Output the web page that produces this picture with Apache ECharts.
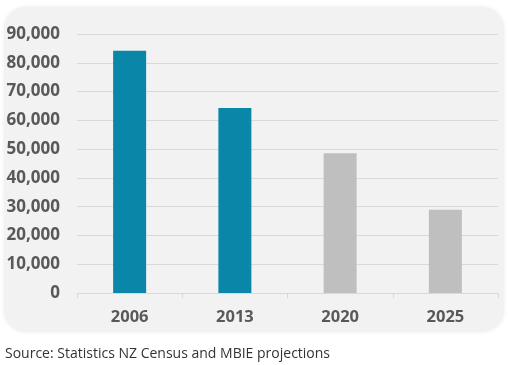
<!DOCTYPE html>
<html><head><meta charset="utf-8">
<script src="https://cdn.jsdelivr.net/npm/echarts@6/dist/echarts.min.js"></script>
<style>html,body{margin:0;padding:0;background:#fff;}#c{width:508px;height:365px;}</style>
</head><body><div id="c"></div>
<script>
var categories = ['2006', '2013', '2020', '2025'];
var values = [84200, 64300, 48600, 28900];
var barColors = ['#0a87a8', '#0a87a8', '#bfbfbf', '#bfbfbf'];
var sourceText = 'Source: Statistics NZ Census and MBIE projections';

var chart = echarts.init(document.getElementById('c'), null, {renderer: 'canvas'});
chart.setOption({
  animation: false,
  backgroundColor: '#ffffff',
  graphic: [
    {type: 'rect', z: -10, shape: {x: 4, y: 7, width: 500, height: 325, r: 22},
     style: {fill: '#f2f2f2', shadowBlur: 4, shadowColor: 'rgba(0,0,0,0.08)'}},
    {type: 'text', left: 5, top: 347, style: {text: sourceText, fill: '#333333', font: '14px "Open Sans"'}}
  ],
  grid: {left: 77, right: 10, top: 34, bottom: 72, containLabel: false},
  xAxis: {
    type: 'category', data: categories,
    axisLine: {show: true, lineStyle: {color: '#d9d9d9', width: 1}},
    axisTick: {show: true, length: 5, lineStyle: {color: '#d9d9d9'}},
    axisLabel: {color: '#595959', fontFamily: 'Open Sans', fontWeight: 'bold', fontSize: 16.5, margin: 16}
  },
  yAxis: {
    type: 'value', min: 0, max: 90000, interval: 10000,
    axisLine: {show: false}, axisTick: {show: false},
    splitLine: {lineStyle: {color: '#d9d9d9', width: 1}},
    axisLabel: {color: '#595959', fontFamily: 'Open Sans', fontWeight: 'bold', fontSize: 17, margin: 17,
      formatter: function (v) { return v.toLocaleString('en-US'); }}
  },
  series: [{
    type: 'bar', barWidth: 33,
    data: values.map(function (v, i) { return {value: v, itemStyle: {color: barColors[i]}}; })
  }]
});
</script></body></html>
